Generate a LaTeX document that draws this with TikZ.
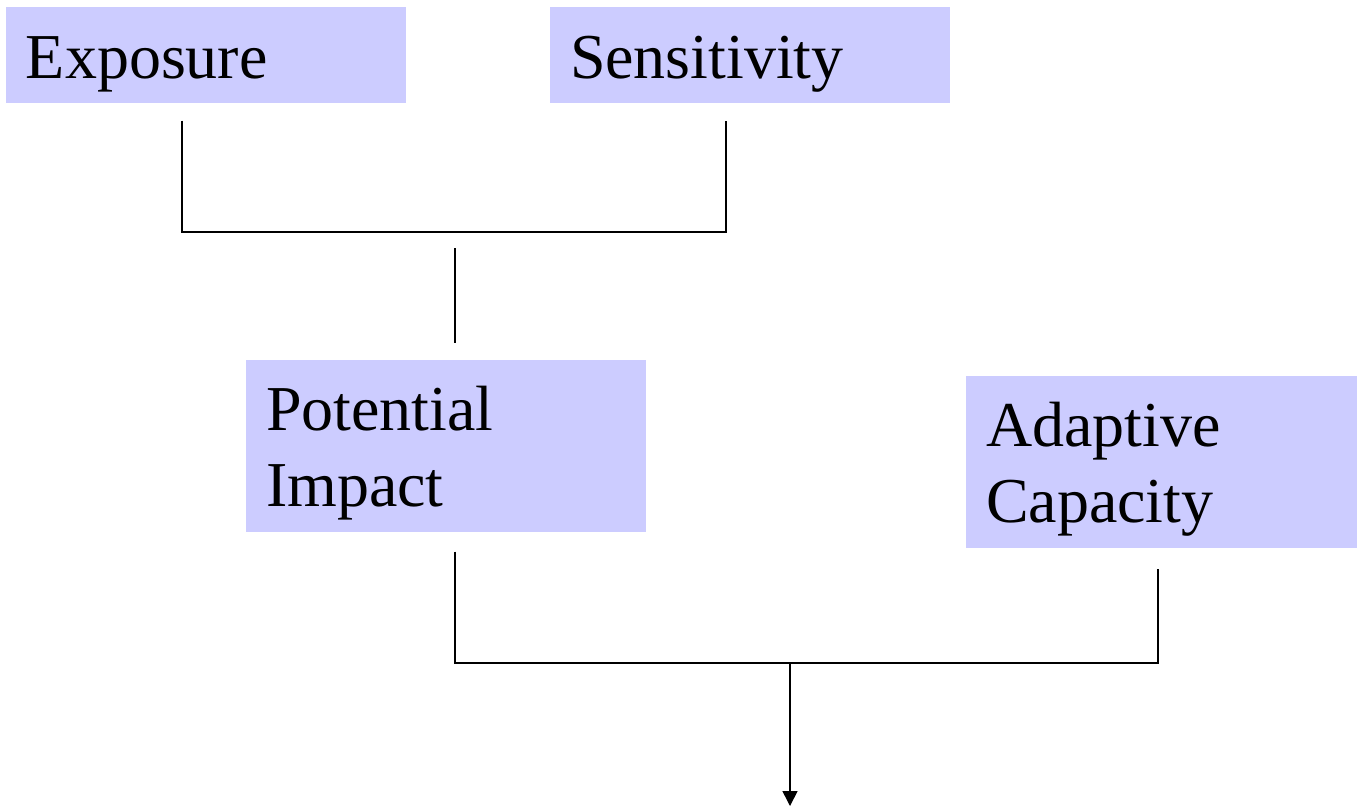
\documentclass[tikz,border=0pt]{standalone}
\usepackage{fontspec}
\setmainfont{Liberation Serif}
\usetikzlibrary{calc,arrows.meta}
\definecolor{boxblue}{RGB}{204,204,255}
\tikzset{factor/.style={fill=boxblue, inner xsep=0.2cm, inner ysep=0pt, align=left,
		font=\fontsize{18.2}{21.5}\selectfont},
	oneline/.style={minimum height=0.96cm, text height=0.46cm, text depth=0cm},
	twoline/.style={minimum height=1.72cm, text height=0cm, text depth=0.31cm}}

\begin{document}
\begin{tikzpicture}
			\useasboundingbox (0,0) rectangle (13.57,-8.07);
			
			\node[factor, oneline, text width=3.6cm] (expo) at (2.06,-0.55) {Exposure};
			\node[factor, oneline, text width=3.6cm] (sens) at (7.50,-0.55) {Sensitivity};
			\node[factor, twoline, text width=3.6cm] (pot) at (4.46,-4.46) {Potential\\Impact};
			\node[factor, twoline, text width=3.51cm] (adapt) at (11.615,-4.62) {Adaptive\\Capacity};
			
			\coordinate (e1) at ($(expo.south)+(-0.24,-0.17)$);
			\coordinate (s1) at ($(sens.south)+(-0.24,-0.17)$);
			\coordinate (p0) at ($(pot.north)+(0.09,0.16)$);
			\coordinate (p1) at ($(pot.south)+(0.09,-0.19)$);
			\coordinate (a1) at ($(adapt.south)+(-0.035,-0.20)$);
			\coordinate (out) at (7.90,-8.06);
			
			\draw[line width=0.43pt] (e1) -- (e1 |- 0,-2.32) -- (s1 |- 0,-2.32) -- (s1);
			\draw[line width=0.43pt] (p0 |- 0,-2.48) -- (p0);
			\draw[line width=0.43pt] (p1) -- (p1 |- 0,-6.63) -- (a1 |- 0,-6.63) -- (a1);
			\draw[line width=0.43pt, -{Triangle[width=0.15cm,length=0.15cm]}] (out |- 0,-6.63) -- (out);
		\end{tikzpicture}
\end{document}
